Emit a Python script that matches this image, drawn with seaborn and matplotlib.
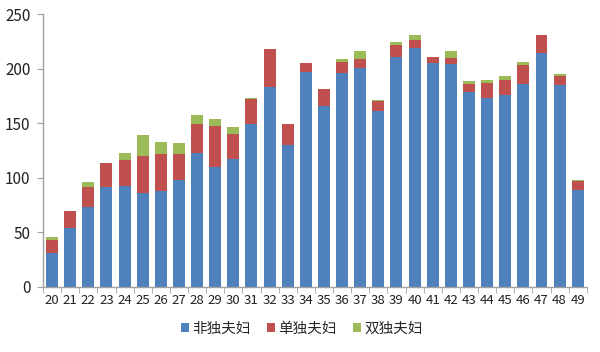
import numpy as np
import pandas as pd
import matplotlib
matplotlib.use("Agg")
import matplotlib.pyplot as plt
from matplotlib.patches import Patch
import seaborn as sns

# data
ages = [str(a) for a in range(20, 50)]
non_single = [31, 54, 73, 91, 92, 86, 88, 98, 123, 110, 117, 149, 183, 130, 197,
              166, 196, 201, 161, 211, 219, 205, 204, 179, 173, 176, 186, 214, 185, 89]
one_single = [12, 15, 18, 22, 24, 34, 34, 24, 26, 37, 23, 23, 35, 19, 8,
              15, 10, 8, 9, 11, 7, 6, 6, 7, 14, 14, 17, 17, 8, 8]
both_single = [3, 0.5, 5, 0, 7, 19, 11, 10, 8, 7, 6, 1.5, 0, 0.5, 0,
               0.5, 2.5, 7, 1.5, 2, 4.5, 0, 6, 3, 2.5, 3, 3.5, 0, 2, 1]
series_names = ["非独夫妇", "单独夫妇", "双独夫妇"]
colors = ["#4F81BD", "#C0504D", "#9BBB59"]

df = pd.DataFrame({"age": ages, "blue": non_single, "red": one_single, "green": both_single})
df["lvl1"] = df["blue"]
df["lvl2"] = df["blue"] + df["red"]
df["lvl3"] = df["lvl2"] + df["green"]

sns.set_style("white")
plt.rcParams["font.family"] = ["Noto Sans CJK SC", "DejaVu Sans"]

fig = plt.figure(figsize=(6, 3.52), dpi=100)
ax = fig.add_axes([0.0717, 0.1855, 0.9063, 0.7745])

# stacked by drawing cumulative levels on top of each other
for col, c in zip(["lvl3", "lvl2", "lvl1"], colors[::-1]):
    sns.barplot(data=df, x="age", y=col, color=c, width=0.66, linewidth=0,
                saturation=1, ax=ax, errorbar=None)

ax.set_xlim(-0.5, len(ages) - 0.5)
ax.set_ylim(0, 250)
ax.set_yticks(range(0, 251, 50))
ax.set_xlabel("")
ax.set_ylabel("")

for s in ["top", "right"]:
    ax.spines[s].set_visible(False)
for s in ["left", "bottom"]:
    ax.spines[s].set_color("#A0A0A0")
    ax.spines[s].set_linewidth(1)

ax.tick_params(axis="y", direction="out", length=4, color="#A0A0A0",
               labelsize=11, labelcolor="#222222", left=True, pad=5)
ax.tick_params(axis="x", which="major", length=0, labelsize=9.5,
               labelcolor="#222222", pad=5)
ax.set_xticks(np.arange(-0.5, len(ages), 1), minor=True)
ax.tick_params(axis="x", which="minor", direction="out", length=4,
               color="#A0A0A0", bottom=True)

handles = [Patch(facecolor=c, edgecolor="none") for c in colors]
fig.legend(handles, series_names, loc="center", bbox_to_anchor=(0.503, 0.066),
           ncol=3, frameon=False, fontsize=10.5, handlelength=0.55,
           handleheight=0.55, handletextpad=0.25, columnspacing=1.1)

fig.savefig("out.png", dpi=100)
